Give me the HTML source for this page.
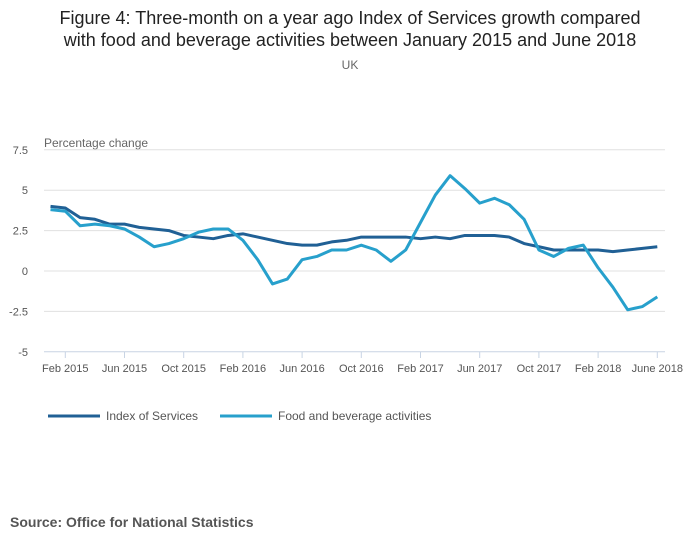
<!DOCTYPE html>
<html><head><meta charset="utf-8"><style>
body{margin:0;background:#fff;font-family:"Liberation Sans",sans-serif;}
svg text{font-family:"Liberation Sans",sans-serif;}
</style></head><body>
<svg width="700" height="549" xmlns="http://www.w3.org/2000/svg">
<text x="350" y="24" text-anchor="middle" font-size="18" fill="#222">Figure 4: Three-month on a year ago Index of Services growth compared</text>
<text x="350" y="46" text-anchor="middle" font-size="18" fill="#222">with food and beverage activities between January 2015 and June 2018</text>
<text x="350" y="69" text-anchor="middle" font-size="12" fill="#666">UK</text>
<text x="44" y="147" font-size="12" fill="#666">Percentage change</text>
<g id="grid"></g><g id="xaxis"></g><g id="series"></g>
<g>
<line x1="48" y1="416" x2="100" y2="416" stroke="#206095" stroke-width="3"/>
<text x="106" y="420" font-size="12" fill="#555">Index of Services</text>
<line x1="220" y1="416" x2="272" y2="416" stroke="#27a0cc" stroke-width="3"/>
<text x="278" y="420" font-size="12" fill="#555">Food and beverage activities</text>
</g>
<text x="10" y="527" font-size="14" font-weight="bold" fill="#555">Source: Office for National Statistics</text>
</svg>
<script>
const yTicks=[7.5,5,2.5,0,-2.5,-5];
const yTickLabels=["7.5","5","2.5","0","-2.5","-5"];
const xTickIdx=[1,5,9,13,17,21,25,29,33,37,41];
const xTickLabels=["Feb 2015","Jun 2015","Oct 2015","Feb 2016","Jun 2016","Oct 2016","Feb 2017","Jun 2017","Oct 2017","Feb 2018","June 2018"];
const iosValues=[4.0,3.9,3.3,3.2,2.9,2.9,2.7,2.6,2.5,2.2,2.1,2.0,2.2,2.3,2.1,1.9,1.7,1.6,1.6,1.8,1.9,2.1,2.1,2.1,2.1,2.0,2.1,2.0,2.2,2.2,2.2,2.1,1.7,1.5,1.3,1.3,1.3,1.3,1.2,1.3,1.4,1.5];
const foodValues=[3.8,3.7,2.8,2.9,2.8,2.6,2.1,1.5,1.7,2.0,2.4,2.6,2.6,1.9,0.7,-0.8,-0.5,0.7,0.9,1.3,1.3,1.6,1.3,0.6,1.3,3.0,4.7,5.9,5.1,4.2,4.5,4.1,3.2,1.3,0.9,1.4,1.6,0.2,-1.0,-2.4,-2.2,-1.6];
const NS="http://www.w3.org/2000/svg";
const x=i=>50.5+i*14.8;
const y=v=>271-v*16.16;
const grid=document.getElementById('grid');
yTicks.forEach((t,k)=>{
 const l=document.createElementNS(NS,'line');
 l.setAttribute('x1',44);l.setAttribute('x2',665);l.setAttribute('y1',y(t));l.setAttribute('y2',y(t));
 l.setAttribute('stroke',t===-5?'#c8d4e4':'#e0e0e0');l.setAttribute('stroke-width',1);
 
 
 grid.appendChild(l);
 const tx=document.createElementNS(NS,'text');
 tx.setAttribute('x',28);tx.setAttribute('y',y(t)+4);tx.setAttribute('text-anchor','end');
 tx.setAttribute('font-size',11);tx.setAttribute('fill','#555');tx.textContent=yTickLabels[k];
 
 
 grid.appendChild(tx);
});
const xa=document.getElementById('xaxis');
xTickIdx.forEach((i,k)=>{
 const l=document.createElementNS(NS,'line');
 l.setAttribute('x1',x(i));l.setAttribute('x2',x(i));l.setAttribute('y1',352);l.setAttribute('y2',358);
 l.setAttribute('stroke','#c8d4e4');
 
 
 xa.appendChild(l);
 const tx=document.createElementNS(NS,'text');
 tx.setAttribute('x',x(i));tx.setAttribute('y',372);tx.setAttribute('text-anchor','middle');
 tx.setAttribute('font-size',11);tx.setAttribute('fill','#555');tx.textContent=xTickLabels[k];
 
 
 xa.appendChild(tx);
});
const sg=document.getElementById('series');
[[iosValues,'#206095','line-index-of-services'],[foodValues,'#27a0cc','line-food-and-beverage']].forEach(([vals,c,n])=>{
 const p=document.createElementNS(NS,'polyline');
 p.setAttribute('points',vals.map((v,i)=>x(i)+','+y(v)).join(' '));
 p.setAttribute('fill','none');p.setAttribute('stroke',c);p.setAttribute('stroke-width',3);
 p.setAttribute('stroke-linejoin','round');
 
 
 sg.appendChild(p);
});
</script>
</body></html>
